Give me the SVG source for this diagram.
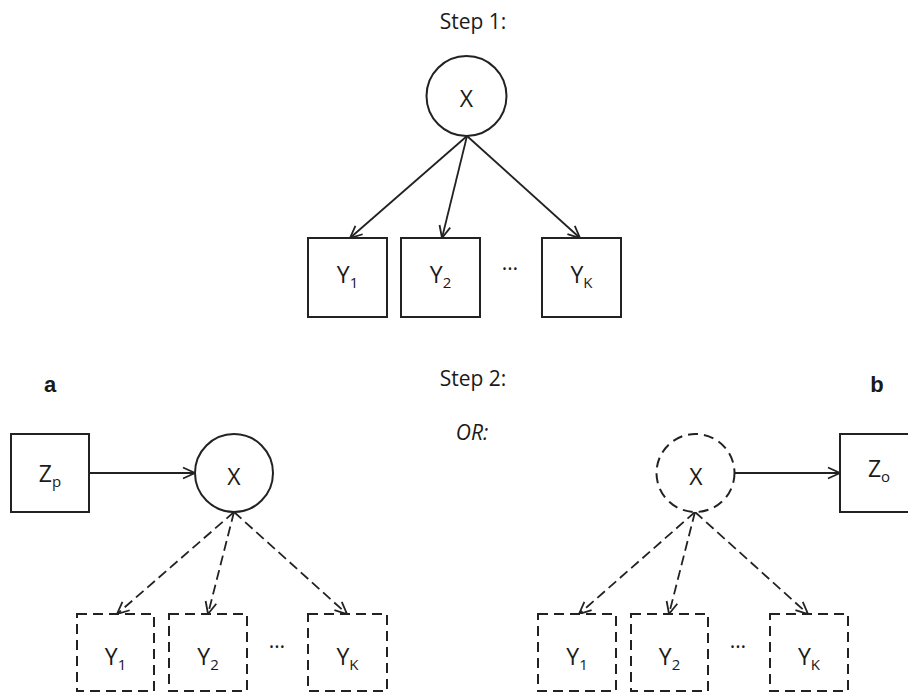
<svg xmlns="http://www.w3.org/2000/svg" width="908" height="693" viewBox="0 0 908 693">
<style>
  .t { font-family: "Open Sans", "Liberation Sans", sans-serif; font-size: 21px; fill: #1a1a1a; text-anchor: middle; }
  .lbl { font-family: "Open Sans", "Liberation Sans", sans-serif; font-size: 23px; fill: #1a1a1a; text-anchor: middle; }
  .sub { font-size: 15px; }
  .bold { font-family: "Liberation Sans", Arial, sans-serif; font-weight: bold; font-size: 22px; fill: #1a1a1a; text-anchor: middle; }
  .node { fill: #fff; stroke: #222; stroke-width: 2; }
  .dash { stroke-dasharray: 10 6; }
  .edge { fill: none; stroke: #222; stroke-width: 1.8; }
  .dedge { stroke-dasharray: 10 5; }
</style>
<defs>
  <marker id="arr" viewBox="0 0 14 14" refX="13" refY="7" markerWidth="14" markerHeight="14" markerUnits="userSpaceOnUse" orient="auto">
    <path d="M1,1.5 L13,7 L1,12.5" fill="none" stroke="#222" stroke-width="1.8"/>
  </marker>
</defs>
<rect width="908" height="693" fill="#fff"/>

<text class="t" x="473" y="29">Step 1:</text>
<text class="t" x="473" y="386">Step 2:</text>
<text class="t" x="472" y="440" font-style="italic">OR:</text>
<text class="bold" x="50" y="392">a</text>
<text class="bold" x="877" y="392">b</text>

<g id="connectors">
  <line class="edge" x1="467" y1="136" x2="350" y2="238" marker-end="url(#arr)"/>
  <line class="edge" x1="467" y1="136" x2="442" y2="238" marker-end="url(#arr)"/>
  <line class="edge" x1="467" y1="136" x2="580" y2="238" marker-end="url(#arr)"/>

  <line class="edge" x1="89" y1="473" x2="195" y2="473" marker-end="url(#arr)"/>
  <line class="edge dedge" x1="234" y1="512" x2="117" y2="614" marker-end="url(#arr)"/>
  <line class="edge dedge" x1="234" y1="512" x2="208" y2="614" marker-end="url(#arr)"/>
  <line class="edge dedge" x1="234" y1="512" x2="347" y2="614" marker-end="url(#arr)"/>

  <line class="edge" x1="734" y1="473" x2="840" y2="473" marker-end="url(#arr)"/>
  <line class="edge dedge" x1="695" y1="512" x2="579" y2="614" marker-end="url(#arr)"/>
  <line class="edge dedge" x1="695" y1="512" x2="669" y2="614" marker-end="url(#arr)"/>
  <line class="edge dedge" x1="695" y1="512" x2="808" y2="614" marker-end="url(#arr)"/>
</g>

<!-- Step 1 -->
<g id="s1-x">
  <circle class="node" cx="466.5" cy="96" r="40"/>
  <text class="lbl" x="466.5" y="107">X</text>
</g>
<g id="s1-y1">
  <rect class="node" x="308" y="238" width="79" height="79"/>
  <text class="lbl" x="347.5" y="283">Y<tspan class="sub" dy="5">1</tspan></text>
</g>
<g id="s1-y2">
  <rect class="node" x="401" y="238" width="79" height="79"/>
  <text class="lbl" x="440.5" y="283">Y<tspan class="sub" dy="5">2</tspan></text>
</g>
<text class="t" x="510" y="270">…</text>
<g id="s1-yk">
  <rect class="node" x="542" y="238" width="79" height="79"/>
  <text class="lbl" x="581.5" y="283">Y<tspan class="sub" dy="5">K</tspan></text>
</g>

<!-- Step 2a -->
<g id="a-zp">
  <rect class="node" x="11" y="434" width="78" height="78"/>
  <text class="lbl" x="50" y="482">Z<tspan class="sub" dy="5">p</tspan></text>
</g>
<g id="a-x">
  <circle class="node" cx="234" cy="473" r="39"/>
  <text class="lbl" x="234" y="485">X</text>
</g>
<g id="a-y1">
  <rect class="node dash" x="77" y="614" width="77" height="77"/>
  <text class="lbl" x="115.5" y="665">Y<tspan class="sub" dy="5">1</tspan></text>
</g>
<g id="a-y2">
  <rect class="node dash" x="169" y="614" width="78" height="77"/>
  <text class="lbl" x="208" y="665">Y<tspan class="sub" dy="5">2</tspan></text>
</g>
<text class="t" x="277" y="648">…</text>
<g id="a-yk">
  <rect class="node dash" x="308" y="614" width="79" height="77"/>
  <text class="lbl" x="347.5" y="665">Y<tspan class="sub" dy="5">K</tspan></text>
</g>

<!-- Step 2b -->
<g id="b-x">
  <circle class="node dash" cx="695.5" cy="473" r="39"/>
  <text class="lbl" x="696" y="485">X</text>
</g>
<g id="b-zo">
  <rect class="node" x="840" y="434" width="79" height="78"/>
  <text class="lbl" x="879" y="477">Z<tspan class="sub" dy="5">o</tspan></text>
</g>
<g id="b-y1">
  <rect class="node dash" x="538" y="614" width="78" height="77"/>
  <text class="lbl" x="577" y="665">Y<tspan class="sub" dy="5">1</tspan></text>
</g>
<g id="b-y2">
  <rect class="node dash" x="631" y="614" width="77" height="77"/>
  <text class="lbl" x="669.5" y="665">Y<tspan class="sub" dy="5">2</tspan></text>
</g>
<text class="t" x="738" y="648">…</text>
<g id="b-yk">
  <rect class="node dash" x="770" y="614" width="78" height="77"/>
  <text class="lbl" x="809" y="665">Y<tspan class="sub" dy="5">K</tspan></text>
</g>
</svg>
